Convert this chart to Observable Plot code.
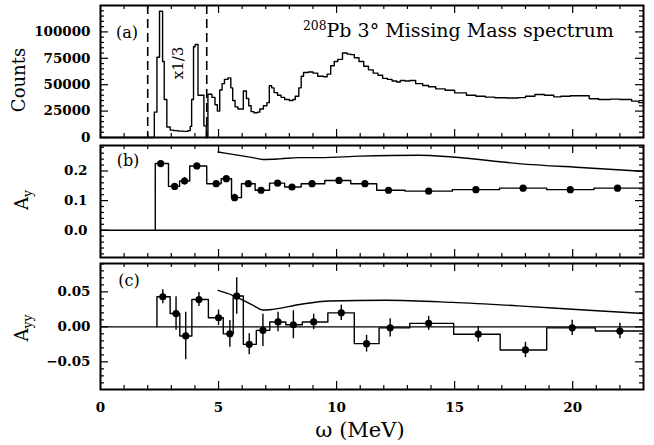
<!DOCTYPE html>
<html><head><meta charset="utf-8">
<script src="https://cdn.jsdelivr.net/npm/d3@7"></script>
<script src="https://cdn.jsdelivr.net/npm/@observablehq/plot@0.6"></script>
<style>
body{margin:0;background:#fff}
#wrap{position:relative;width:654px;height:445px;overflow:hidden;background:#fff}
#wrap svg{position:absolute;left:0}
.lab{position:absolute;font-family:"DejaVu Serif";color:#000;white-space:nowrap;line-height:1}
.rot{transform:translate(-50%,-50%) rotate(-90deg)}
.ctr{transform:translate(-50%,-50%)}
</style></head><body><div id="wrap"></div>
<script>
// ---- panel (a): missing mass spectrum (step histogram, left edges in MeV) ----
const specX = [0, 2.20, 2.28, 2.39, 2.50, 2.63, 2.70, 2.81, 2.95, 3.10, 3.30, 3.50, 3.70, 3.80, 3.86, 3.94, 4.01, 4.13, 4.38, 4.48, 4.55, 4.72, 4.85, 4.95, 5.05, 5.15, 5.25, 5.40, 5.52, 5.60, 5.70, 5.82, 5.95, 6.05, 6.18, 6.28, 6.38, 6.50, 6.65, 6.75, 6.90, 7.05, 7.15, 7.25, 7.35, 7.50, 7.65, 7.80, 8.00, 8.15, 8.25, 8.40, 8.50, 8.60, 8.80, 9.00, 9.20, 9.45, 9.60, 9.75, 9.90, 10.05, 10.25, 10.45, 10.60, 10.75, 10.95, 11.15, 11.35, 11.55, 11.75, 11.95, 12.15, 12.35, 12.55, 12.70, 12.90, 13.10, 13.35, 13.65, 13.90, 14.20, 14.60, 15.00, 15.50, 15.90, 16.30, 16.70, 17.20, 17.70, 18.00, 18.40, 18.80, 19.20, 19.50, 19.90, 20.30, 20.70, 21.10, 21.60, 22.00, 22.50, 22.80, 23.0];
const specCounts = [0, 0, 24000, 76000, 119500, 72000, 36000, 10000, 7000, 6500, 6000, 5800, 6500, 10500, 36000, 86000, 88000, 40000, 11000, 0, 41000, 38000, 31000, 25000, 45000, 51000, 55000, 56500, 47000, 35000, 29000, 27000, 27000, 44000, 37000, 30000, 24500, 23500, 24000, 27000, 30000, 33000, 49000, 47000, 42500, 40000, 38000, 36000, 35000, 36000, 39000, 47000, 58000, 61500, 62000, 61000, 58000, 57500, 60000, 68000, 72000, 74000, 80000, 79000, 78500, 75500, 72000, 67500, 64000, 61000, 59000, 56000, 55000, 53500, 52500, 54000, 53500, 54000, 51000, 49200, 48000, 46000, 44800, 42300, 40000, 39000, 38200, 37600, 37400, 37800, 39100, 40700, 40000, 38500, 39000, 39500, 39600, 36700, 36000, 36300, 36000, 34400, 33000, 33000];
const cutLines = [2.0, 4.5];
const countTicks = [0, 25000, 50000, 75000, 100000];

// ---- panel (b): A_y ----
const ayEdges = [2.32, 2.88, 3.35, 3.78, 4.5, 5.11, 5.55, 5.97, 6.55, 7.16, 7.8, 8.5, 9.5, 10.6, 11.7, 12.9, 14.9, 16.9, 18.9, 20.9, 23.0];
const ayX = [2.55, 3.14, 3.56, 4.08, 4.9, 5.33, 5.68, 6.26, 6.8, 7.5, 8.11, 8.96, 10.1, 11.2, 12.2, 13.9, 15.9, 17.9, 19.9, 21.9];
const ayVal = [0.225, 0.148, 0.166, 0.217, 0.157, 0.174, 0.110, 0.157, 0.135, 0.159, 0.146, 0.157, 0.168, 0.157, 0.135, 0.132, 0.137, 0.142, 0.137, 0.142];
const ayErr = [0.006, 0.008, 0.012, 0.006, 0.006, 0.008, 0.012, 0.006, 0.006, 0.006, 0.006, 0.006, 0.006, 0.006, 0.006, 0.006, 0.006, 0.006, 0.006, 0.006];
const ayThX = [4.98, 5.6, 6.45, 6.88, 7.6, 8.4, 9.3, 11.0, 13.5, 14.9, 17.7, 20.5, 23.0];
const ayThY = [0.264, 0.256, 0.245, 0.239, 0.241, 0.245, 0.245, 0.250, 0.253, 0.247, 0.225, 0.211, 0.199];
const ayTicks = [0.0, 0.1, 0.2];

// ---- panel (c): A_yy ----
const ayyEdges = [2.39, 2.95, 3.36, 3.87, 4.57, 5.2, 5.62, 6.05, 6.6, 7.17, 7.85, 8.55, 9.63, 10.75, 11.8, 13.1, 14.96, 16.93, 18.9, 20.96, 23.0];
const ayyX = [2.64, 3.2, 3.61, 4.17, 5.0, 5.48, 5.77, 6.3, 6.88, 7.52, 8.17, 9.03, 10.2, 11.27, 12.27, 13.9, 16.0, 18.0, 19.98, 22.0];
const ayyVal = [0.043, 0.019, -0.013, 0.039, 0.013, -0.010, 0.044, -0.025, -0.005, 0.007, 0.003, 0.007, 0.020, -0.024, -0.0014, 0.005, -0.0105, -0.033, -0.0014, -0.006];
const ayyErr = [0.010, 0.024, 0.034, 0.010, 0.011, 0.019, 0.026, 0.015, 0.023, 0.014, 0.020, 0.011, 0.011, 0.012, 0.013, 0.010, 0.011, 0.011, 0.011, 0.011];
const ayyThX = [4.98, 5.6, 6.45, 6.88, 7.3, 8.44, 9.7, 12.1, 14.9, 17.7, 20.5, 23.0];
const ayyThY = [0.052, 0.045, 0.031, 0.024, 0.025, 0.032, 0.037, 0.038, 0.035, 0.030, 0.024, 0.019];
const ayyTicks = [-0.05, 0.00, 0.05];
const omegaTicks = [0, 5, 10, 15, 20];

// ---------------- layout ----------------
const W = 654, ML = 100, MR = 11, IW = W - ML - MR;
const X0 = 0, X1 = 23;
const wrap = document.getElementById("wrap");
const tickFont = {fontFamily: "DejaVu Serif", fontSize: "13.5px", fontWeight: "bold", color: "black", background: "transparent", overflow: "visible"};

// inward ticks on all four sides of a panel frame (lengths in pixels)
function boxTicks(IH, yDom, yMaj, yMin, xMaj, xMin) {
  const maj = 8, mn = 4, sw = 1.2;
  const dx = (X1 - X0) / IW, dy = (yDom[1] - yDom[0]) / IH;
  const out = [];
  for (const [arr, len] of [[yMaj, maj], [yMin, mn]]) {
    out.push(Plot.ruleY(arr, {y: d => d, x1: X0, x2: X0 + len * dx, stroke: "black", strokeWidth: sw}));
    out.push(Plot.ruleY(arr, {y: d => d, x1: X1 - len * dx, x2: X1, stroke: "black", strokeWidth: sw}));
  }
  for (const [arr, len] of [[xMaj, maj], [xMin, mn]]) {
    out.push(Plot.ruleX(arr, {x: d => d, y1: yDom[0], y2: yDom[0] + len * dy, stroke: "black", strokeWidth: sw}));
    out.push(Plot.ruleX(arr, {x: d => d, y1: yDom[1] - len * dy, y2: yDom[1], stroke: "black", strokeWidth: sw}));
  }
  return out;
}
const xMin = d3.range(1, 23).filter(v => v % 5 !== 0);

function stepData(edges, vals) {
  const pts = [{x: edges[0], y: 0}];
  vals.forEach((v, i) => pts.push({x: edges[i], y: v}));
  pts.push({x: edges[edges.length - 1], y: vals[vals.length - 1]});
  return pts;
}

// panel (a)
const spec = specX.map((x, i) => ({x, y: specCounts[i]}));
const hA = 140, mtA = 5, mbA = 3, domA = [0, 125000];
const plotA = Plot.plot({
  width: W, height: hA, marginLeft: ML, marginRight: MR, marginTop: mtA, marginBottom: mbA,
  style: tickFont,
  x: {domain: [X0, X1], axis: null},
  y: {domain: domA, axis: null},
  marks: [
    Plot.line(spec, {x: "x", y: "y", curve: "step-after", stroke: "black", strokeWidth: 1.4}),
    Plot.ruleX(cutLines, {x: d => d, stroke: "black", strokeWidth: 1.6, strokeDasharray: "9,5"}),
    Plot.axisY({ticks: countTicks, tickSize: 0, tickPadding: 10, tickFormat: d3.format("d"), label: null}),
    ...boxTicks(hA - mtA - mbA, domA, countTicks, d3.range(5000, 125000, 5000).filter(v => v % 25000 !== 0), omegaTicks, xMin),
    Plot.frame({stroke: "black", strokeWidth: 2})
  ]
});
plotA.style.top = "0px";
wrap.appendChild(plotA);

// panel (b)
const hB = 120, mtB = 5, mbB = 3, domB = [-0.092, 0.286];
const ayPts = ayX.map((x, i) => ({x, y: ayVal[i], e: ayErr[i]}));
const ayTh = ayThX.map((x, i) => ({x, y: ayThY[i]}));
const plotB = Plot.plot({
  width: W, height: hB, marginLeft: ML, marginRight: MR, marginTop: mtB, marginBottom: mbB,
  style: tickFont,
  x: {domain: [X0, X1], axis: null},
  y: {domain: domB, axis: null},
  marks: [
    Plot.ruleY([0], {stroke: "black", strokeWidth: 1.3}),
    Plot.line(stepData(ayEdges, ayVal), {x: "x", y: "y", curve: "step-after", stroke: "black", strokeWidth: 1.4}),
    Plot.ruleX(ayPts, {x: "x", y1: d => d.y - d.e, y2: d => d.y + d.e, stroke: "black", strokeWidth: 1.4}),
    Plot.dot(ayPts, {x: "x", y: "y", r: 3.6, fill: "black", stroke: "none"}),
    Plot.line(ayTh, {x: "x", y: "y", curve: "monotone-x", stroke: "black", strokeWidth: 1.4}),
    Plot.axisY({ticks: ayTicks, tickSize: 0, tickPadding: 13, tickFormat: d3.format(".1f"), label: null}),
    ...boxTicks(hB - mtB - mbB, domB, ayTicks, [-0.08, -0.06, -0.04, -0.02, 0.02, 0.04, 0.06, 0.08, 0.12, 0.14, 0.16, 0.18, 0.22, 0.24, 0.26, 0.28], omegaTicks, xMin),
    Plot.frame({stroke: "black", strokeWidth: 2})
  ]
});
plotB.style.top = "140px";
wrap.appendChild(plotB);

// panel (c)
const hC = 185, mtC = 3, mbC = 56, domC = [-0.0895, 0.0905];
const ayyPts = ayyX.map((x, i) => ({x, y: ayyVal[i], e: ayyErr[i]}));
const ayyTh = ayyThX.map((x, i) => ({x, y: ayyThY[i]}));
const plotC = Plot.plot({
  width: W, height: hC, marginLeft: ML, marginRight: MR, marginTop: mtC, marginBottom: mbC,
  style: tickFont,
  x: {domain: [X0, X1], axis: null},
  y: {domain: domC, axis: null},
  marks: [
    Plot.ruleY([0], {stroke: "black", strokeWidth: 1.3}),
    Plot.line(stepData(ayyEdges, ayyVal), {x: "x", y: "y", curve: "step-after", stroke: "black", strokeWidth: 1.4}),
    Plot.ruleX(ayyPts, {x: "x", y1: d => d.y - d.e, y2: d => d.y + d.e, stroke: "black", strokeWidth: 1.4}),
    Plot.dot(ayyPts, {x: "x", y: "y", r: 3.6, fill: "black", stroke: "none"}),
    Plot.line(ayyTh, {x: "x", y: "y", curve: "monotone-x", stroke: "black", strokeWidth: 1.4}),
    Plot.axisY({ticks: ayyTicks, tickSize: 0, tickPadding: 10, tickFormat: d3.format(".2f"), label: null}),
    Plot.axisX({ticks: omegaTicks, tickSize: 0, tickPadding: 13, tickFormat: d3.format("d"), label: null}),
    ...boxTicks(hC - mtC - mbC, domC, ayyTicks, [-0.08, -0.07, -0.06, -0.04, -0.03, -0.02, -0.01, 0.01, 0.02, 0.03, 0.04, 0.06, 0.07, 0.08, 0.09], omegaTicks, xMin),
    Plot.frame({stroke: "black", strokeWidth: 2})
  ]
});
plotC.style.top = "260px";
wrap.appendChild(plotC);

// ---------------- text labels ----------------
function lab(html, x, y, size, cls) {
  const d = document.createElement("div");
  d.className = "lab " + (cls || "");
  d.innerHTML = html;
  d.style.left = x + "px"; d.style.top = y + "px"; d.style.fontSize = size + "px";
  wrap.appendChild(d);
  return d;
}
lab("Counts", 19, 80, 18, "rot");
lab("A<span style='font-size:0.7em;position:relative;top:0.35em'>y</span>", 22, 200, 18, "rot");
lab("A<span style='font-size:0.7em;position:relative;top:0.35em'>yy</span>", 22, 328, 18, "rot");
lab("(a)", 127, 33, 16, "ctr");
lab("(b)", 128, 161, 16, "ctr");
lab("(c)", 129, 281, 16, "ctr");
lab("x1/3", 178, 63, 15, "rot");
lab("<span style='font-size:0.65em;position:relative;top:-0.55em'>208</span>Pb 3° Missing Mass spectrum", 303, 21, 19, "");
lab("ω (MeV)", 360, 430, 21, "ctr");
</script></body></html>
